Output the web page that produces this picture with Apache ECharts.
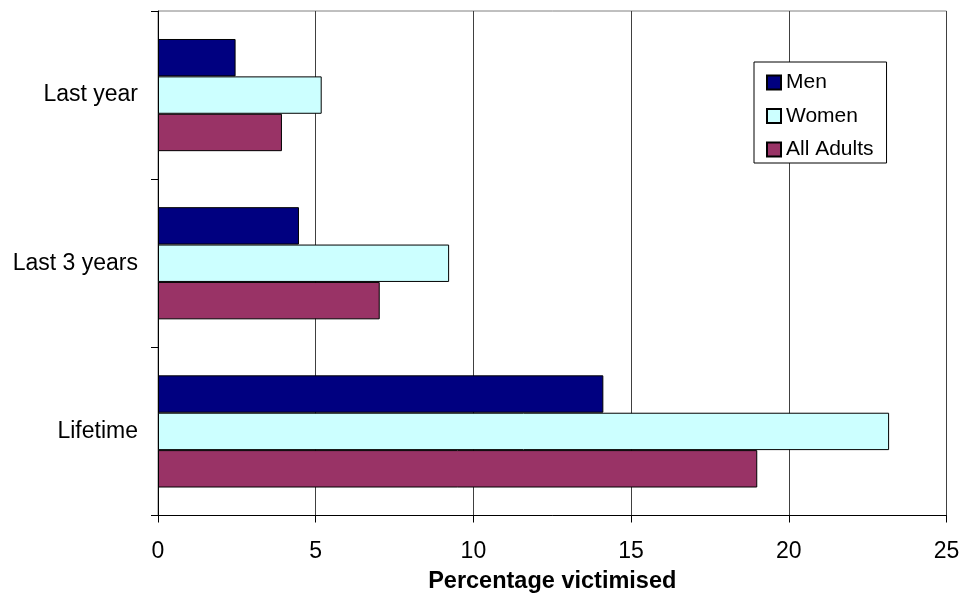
<!DOCTYPE html>
<html>
<head>
<meta charset="utf-8">
<script src="https://cdn.jsdelivr.net/npm/echarts@6/dist/echarts.min.js"></script>
<style>
  html, body { margin: 0; padding: 0; background: #ffffff; }
  #chart { width: 963px; height: 595px; }
</style>
</head>
<body>
<div id="chart"></div>
<script>
// Periods shown on the vertical axis, top to bottom
const periods = ['Last year', 'Last 3 years', 'Lifetime'];

// Percentage victimised per group
const men = [2.46, 4.47, 14.12];
const women = [5.19, 9.23, 23.18];
const allAdults = [3.93, 7.03, 19.0];

// Horizontal axis range and step
const xMin = 0;
const xMax = 25;
const xStep = 5;

const FONT = '"Liberation Sans", Arial, sans-serif';

const chart = echarts.init(document.getElementById('chart'), null, { renderer: 'canvas' });

function barSeries(name, values, color) {
  return {
    name: name,
    type: 'bar',
    data: values,
    barGap: '0%',
    barCategoryGap: '33.3%',
    itemStyle: { color: color, borderColor: '#000000', borderWidth: 1 },
    emphasis: { disabled: true },
    animation: false
  };
}

chart.setOption({
  backgroundColor: '#ffffff',
  animation: false,
  textStyle: { fontFamily: FONT },
  grid: {
    left: 158,
    top: 11,
    right: 16.5,
    bottom: 79.5,
    containLabel: false,
    outerBoundsMode: 'none',
    show: true,
    borderColor: '#808080',
    borderWidth: 1,
    backgroundColor: 'transparent'
  },
  legend: {
    orient: 'vertical',
    left: 754,
    top: 62,
    padding: [10, 13, 3, 12],
    itemGap: 12.5,
    itemWidth: 14,
    itemHeight: 14,
    icon: 'rect',
    backgroundColor: '#ffffff',
    borderColor: '#000000',
    borderWidth: 1,
    borderRadius: 0,
    selectedMode: false,
    textStyle: { fontFamily: FONT, fontSize: 21, color: '#000000', padding: [0, 0, 0, 0] },
    data: ['Men', 'Women', 'All Adults']
  },
  xAxis: {
    type: 'value',
    min: xMin,
    max: xMax,
    interval: xStep,
    name: 'Percentage victimised',
    nameLocation: 'middle',
    nameGap: 54,
    nameTextStyle: { fontFamily: FONT, fontSize: 23.5, fontWeight: 'bold', color: '#000000' },
    axisLine: { show: true, lineStyle: { color: '#000000', width: 1 } },
    axisTick: { show: true, inside: false, length: 7, lineStyle: { color: '#000000' } },
    axisLabel: { fontFamily: FONT, fontSize: 23, color: '#000000', margin: 25 },
    splitLine: { show: true, lineStyle: { color: '#404040', width: 1 } }
  },
  yAxis: {
    type: 'category',
    data: periods,
    inverse: true,
    axisLine: { show: true, lineStyle: { color: '#000000', width: 1 } },
    axisTick: { show: true, inside: false, length: 7, alignWithLabel: false, lineStyle: { color: '#000000' } },
    axisLabel: { fontFamily: FONT, fontSize: 23, color: '#000000', margin: 20 },
    splitLine: { show: false }
  },
  series: [
    barSeries('Men', men, '#000080'),
    barSeries('Women', women, '#CCFFFF'),
    barSeries('All Adults', allAdults, '#993366')
  ]
});
</script>
</body>
</html>
